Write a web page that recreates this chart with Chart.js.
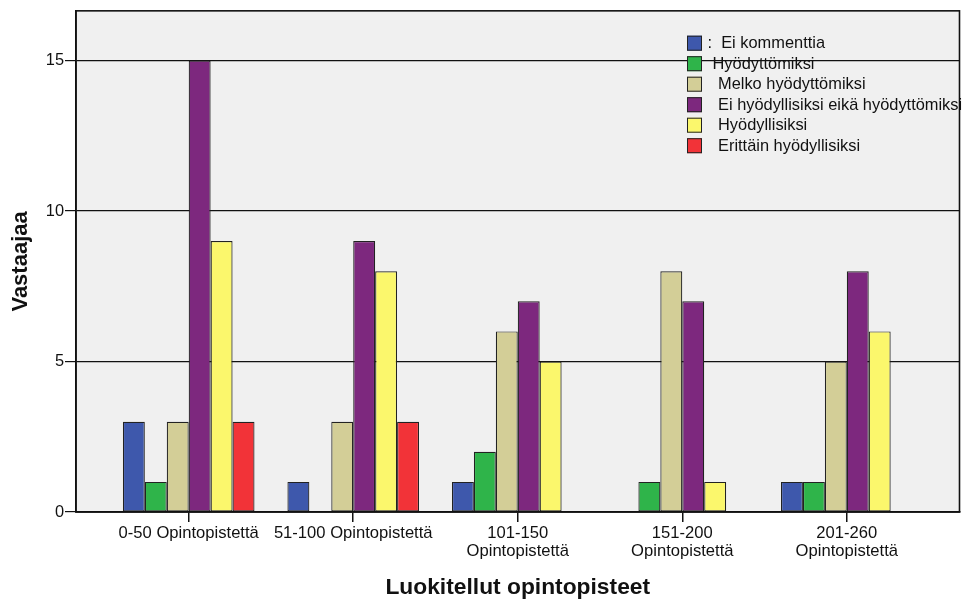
<!DOCTYPE html>
<html>
<head>
<meta charset="utf-8">
<script src="https://cdn.jsdelivr.net/npm/chart.js@4"></script>
<style>
  html, body { margin: 0; padding: 0; background: #ffffff; }
  #wrap { width: 963px; height: 600px; }
</style>
</head>
<body>
<div id="wrap"><canvas id="c" width="963" height="600"></canvas></div>
<script>
// ---- Data ----
const categories = [
  ["0-50 Opintopistettä"],
  ["51-100 Opintopistettä"],
  ["101-150", "Opintopistettä"],
  ["151-200", "Opintopistettä"],
  ["201-260", "Opintopistettä"]
];
const seriesNames = [
  ":  Ei kommenttia",
  "Hyödyttömiksi",
  "Melko hyödyttömiksi",
  "Ei hyödyllisiksi eikä hyödyttömiksi",
  "Hyödyllisiksi",
  "Erittäin hyödyllisiksi"
];
const eiKommenttia   = [3, 1, 1, 0, 1];
const hyodyttomiksi  = [1, 0, 2, 1, 1];
const melkoHyodyttom = [3, 3, 6, 8, 5];
const eiHyodEikaHyod = [15, 9, 7, 7, 8];
const hyodyllisiksi  = [9, 8, 5, 1, 6];
const erittainHyod   = [3, 3, 0, 0, 0];
const yTicks = [0, 5, 10, 15];

const seriesValues = [eiKommenttia, hyodyttomiksi, melkoHyodyttom, eiHyodEikaHyod, hyodyllisiksi, erittainHyod];
const colors = ["#3e58ac", "#2fb44a", "#d3ce97", "#7d287e", "#fbf76c", "#f23338"];

const FONT = "'Liberation Sans', Arial, sans-serif";

const plotBg = {
  id: 'plotBg',
  beforeDraw(chart) {
    const {ctx, chartArea: a} = chart;
    ctx.save();
    ctx.fillStyle = '#f0f0f0';
    ctx.fillRect(a.left, a.top, a.right - a.left, a.bottom - a.top);
    ctx.restore();
  },
  afterDraw(chart) {
    const {ctx, chartArea: a} = chart;
    ctx.save();
    ctx.strokeStyle = '#111';
    ctx.lineWidth = 1.6;
    ctx.strokeRect(a.left, a.top, a.right - a.left, a.bottom - a.top);
    ctx.restore();
  }
};

const legendPlugin = {
  id: 'customLegend',
  afterDatasetsDraw(chart) {
    const {ctx} = chart;
    const boxX = 687, boxTop = 35.7, step = 20.5, box = 15;
    const textX = [707.5, 712.5, 718, 718, 718, 718];
    ctx.save();
    ctx.font = '16.4px ' + FONT;
    ctx.textBaseline = 'middle';
    ctx.textAlign = 'left';
    chart.data.datasets.forEach((ds, i) => {
      const y = boxTop + i * step;
      ctx.fillStyle = ds.backgroundColor;
      ctx.fillRect(boxX, y, box, box);
      ctx.strokeStyle = '#222';
      ctx.lineWidth = 1;
      ctx.strokeRect(boxX + 0.5, y + 0.5, box - 1, box - 1);
      ctx.fillStyle = '#111';
      ctx.fillText(ds.label, textX[i], y + box / 2 + 0.5);
    });
    ctx.restore();
  }
};

new Chart(document.getElementById('c'), {
  type: 'bar',
  data: {
    labels: categories.map((_, i) => i),
    datasets: seriesNames.map((name, i) => ({
      label: name,
      data: seriesValues[i],
      backgroundColor: colors[i],
      borderColor: '#222',
      borderWidth: 1.2,
      borderSkipped: false,
      categoryPercentage: 0.8,
      barPercentage: 1.0
    }))
  },
  options: {
    responsive: false,
    animation: false,
    devicePixelRatio: 1,
    layout: { padding: { top: 7, right: 3.5, left: 0, bottom: 0 } },
    plugins: { legend: { display: false }, tooltip: { enabled: false } },
    scales: {
      x: {
        type: 'linear',
        offset: false,
        min: -0.685,
        max: 4.685,
        afterBuildTicks: s => { s.ticks = categories.map((_, i) => ({ value: i })); },
        afterFit: s => { s.height = 88; },
        grid: { display: true, offset: false, drawOnChartArea: false, drawTicks: true, tickLength: 10, color: '#111', lineWidth: 1.5 },
        border: { display: true, color: '#111', width: 1.6 },
        ticks: {
          autoSkip: false,
          maxRotation: 0,
          padding: 3,
          color: '#111',
          font: { family: FONT, size: 16.6, lineHeight: 1.06 },
          callback: v => categories[v]
        },
        title: {
          display: true,
          text: 'Luokitellut opintopisteet',
          color: '#111',
          font: { family: FONT, size: 22.8, weight: 'bold', lineHeight: 1 },
          padding: { top: 0, bottom: 1 }
        }
      },
      y: {
        min: 0,
        max: 16.65,
        afterBuildTicks: s => { s.ticks = yTicks.map(v => ({ value: v })); },
        afterFit: s => { s.width = 76; },
        grid: { display: true, drawOnChartArea: true, drawTicks: true, tickLength: 11, color: '#111', lineWidth: 1.2 },
        border: { display: true, color: '#111', width: 1.6 },
        ticks: {
          padding: 1,
          color: '#111',
          font: { family: FONT, size: 16.4 }
        },
        title: {
          display: true,
          text: 'Vastaajaa',
          color: '#111',
          font: { family: FONT, size: 22, weight: 'bold', lineHeight: 1.2 },
          padding: { top: 8, bottom: 0 }
        }
      }
    }
  },
  plugins: [plotBg, legendPlugin]
});
</script>
</body>
</html>
